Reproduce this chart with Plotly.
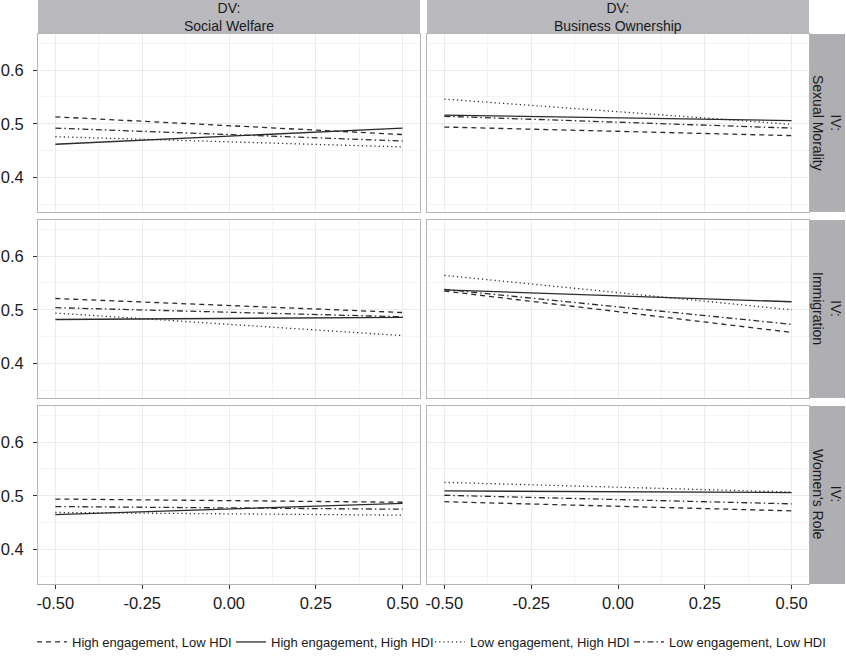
import plotly.graph_objects as go

# ---- data ----
x_vals = [-0.5, 0.5]
dv_labels = ["Social Welfare", "Business Ownership"]
iv_labels = ["Sexual Morality", "Immigration", "Women's Role"]
series_names = ["High engagement, Low HDI", "High engagement, High HDI",
                "Low engagement, High HDI", "Low engagement, Low HDI"]

# values per panel: list of [y at -0.5, y at 0.5] per series (order as series_names)
sexual_welfare = [[0.513, 0.480], [0.462, 0.492], [0.476, 0.457], [0.492, 0.468]]
sexual_business = [[0.494, 0.478], [0.516, 0.506], [0.546, 0.499], [0.514, 0.492]]
immig_welfare = [[0.521, 0.495], [0.482, 0.486], [0.494, 0.452], [0.504, 0.487]]
immig_business = [[0.535, 0.458], [0.537, 0.515], [0.564, 0.500], [0.538, 0.473]]
women_welfare = [[0.494, 0.488], [0.465, 0.486], [0.469, 0.464], [0.480, 0.475]]
women_business = [[0.489, 0.472], [0.509, 0.506], [0.525, 0.507], [0.501, 0.485]]

panel_values = [[sexual_welfare, sexual_business],
                [immig_welfare, immig_business],
                [women_welfare, women_business]]

x_ticks = [-0.5, -0.25, 0.0, 0.25, 0.5]
x_ticktext = ["-0.50", "-0.25", "0.00", "0.25", "0.50"]
y_ticks = [0.4, 0.5, 0.6]
y_ticktext = ["0.4", "0.5", "0.6"]

# ---- styles ----
dashes = ["5px,4px", "solid", "1.2px,3px", "6px,3px,1.5px,3px"]
line_color = "#2b2b2b"

W, H = 846, 661
ml, mr, mt, mb = 38, 37, 34, 77
pw = W - ml - mr
ph = H - mt - mb
col_dom = [[0, (420 - 38) / pw], [(427 - 38) / pw, 1]]
row_dom = [[(584 - 212) / ph, 1], [(584 - 398) / ph, (584 - 220) / ph], [0, (584 - 406) / ph]]

fig = go.Figure()
layout = {}
for r in range(3):
    for c in range(2):
        idx = r * 2 + c + 1
        sfx = "" if idx == 1 else str(idx)
        vals = panel_values[r][c]
        for s, name in enumerate(series_names):
            fig.add_trace(go.Scatter(
                x=x_vals, y=vals[s], mode="lines", name=name,
                line=dict(color=line_color, width=1.3, dash=dashes[s]),
                showlegend=(idx == 1), legendgroup=name,
                xaxis="x" + sfx, yaxis="y" + sfx, hoverinfo="skip"))
        layout["xaxis" + sfx] = dict(
            domain=col_dom[c], anchor="y" + sfx, range=[-0.55, 0.55],
            tickvals=x_ticks, ticktext=x_ticktext,
            showticklabels=(r == 2), ticks="outside" if r == 2 else "",
            ticklen=4, tickcolor="#333333", tickwidth=1,
            tickfont=dict(size=16.5, color="#1a1a1a"),
            showgrid=True, gridcolor="#ebebeb", gridwidth=1,
            minor=dict(tickvals=[-0.375, -0.125, 0.125, 0.375], showgrid=True,
                       gridcolor="#f4f4f4", gridwidth=1),
            zeroline=False, showline=True, mirror=True, automargin=False,
            linecolor="#b5b5b5", linewidth=1, fixedrange=True)
        layout["yaxis" + sfx] = dict(
            domain=row_dom[r], anchor="x" + sfx, range=[0.336, 0.667],
            tickvals=y_ticks, ticktext=y_ticktext,
            showticklabels=(c == 0), ticks="outside" if c == 0 else "",
            ticklen=4, tickcolor="#333333", tickwidth=1, ticklabelstandoff=6,
            tickfont=dict(size=16.5, color="#1a1a1a"),
            showgrid=True, gridcolor="#ebebeb", gridwidth=1,
            minor=dict(tickvals=[0.35, 0.45, 0.55, 0.65], showgrid=True,
                       gridcolor="#f4f4f4", gridwidth=1),
            zeroline=False, showline=True, mirror=True, automargin=False,
            linecolor="#b5b5b5", linewidth=1, fixedrange=True)

shapes = []
annotations = []
strip_top_h = 34 / ph
for c in range(2):
    shapes.append(dict(type="rect", xref="paper", yref="paper",
                       x0=col_dom[c][0], x1=col_dom[c][1], y0=1, y1=1 + strip_top_h,
                       fillcolor="#b9b9bd", line=dict(width=0), layer="below"))
    annotations.append(dict(xref="paper", yref="paper",
                            x=(col_dom[c][0] + col_dom[c][1]) / 2, y=1 + strip_top_h / 2,
                            text="DV:<br>" + dv_labels[c], showarrow=False,
                            font=dict(size=14, color="#1a1a1a"),
                            xanchor="center", yanchor="middle"))
strip_r_w = 36 / pw
for r in range(3):
    shapes.append(dict(type="rect", xref="paper", yref="paper",
                       x0=1, x1=1 + strip_r_w, y0=row_dom[r][0], y1=row_dom[r][1],
                       fillcolor="#afafb3", line=dict(width=0), layer="below"))
    annotations.append(dict(xref="paper", yref="paper",
                            x=1 + strip_r_w / 2, y=(row_dom[r][0] + row_dom[r][1]) / 2,
                            text="IV:<br>" + iv_labels[r], showarrow=False, textangle=90,
                            font=dict(size=14, color="#1a1a1a"),
                            xanchor="center", yanchor="middle"))

fig.update_layout(
    **layout,
    width=W, height=H,
    margin=dict(l=ml, r=mr, t=mt, b=mb, autoexpand=False),
    paper_bgcolor="white", plot_bgcolor="white",
    font=dict(family="Liberation Sans, Arial, sans-serif", color="#1a1a1a"),
    shapes=shapes, annotations=annotations,
    legend=dict(orientation="h", xref="paper", yref="paper",
                x=(32 - ml) / pw, y=(584 - 627) / ph, xanchor="left", yanchor="top",
                font=dict(size=13, color="#1a1a1a"), itemwidth=30,
                entrywidth=154, entrywidthmode="pixels",
                traceorder="normal", bgcolor="rgba(0,0,0,0)"),
)

fig.write_html("out.html", config={"displayModeBar": False},
               post_script="document.body.style.margin='0';document.body.style.overflow='hidden';")
